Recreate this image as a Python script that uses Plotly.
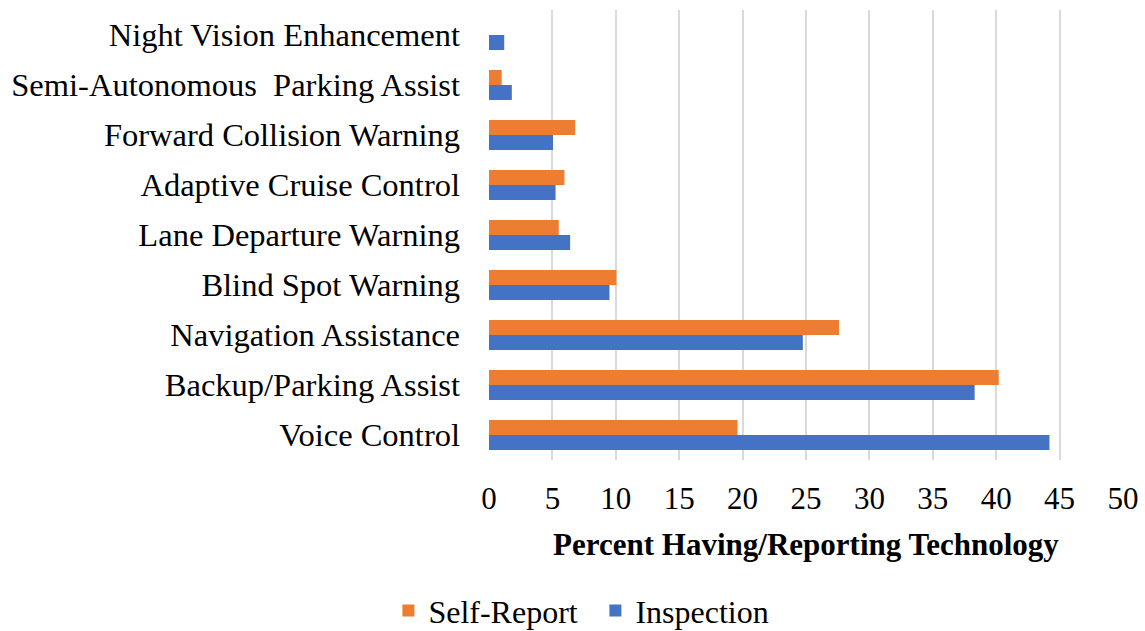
import plotly.graph_objects as go

categories = ["Voice Control", "Backup/Parking Assist", "Navigation Assistance",
              "Blind Spot Warning", "Lane Departure Warning", "Adaptive Cruise Control",
              "Forward Collision Warning", "Semi-Autonomous  Parking Assist",
              "Night Vision Enhancement"]
inspection = [44.2, 38.3, 24.75, 9.5, 6.4, 5.25, 5.05, 1.8, 1.2]
self_report = [19.6, 40.2, 27.6, 10.05, 5.5, 5.95, 6.8, 1.0, 0.0]

font_family = "Liberation Serif, Times New Roman, serif"

fig = go.Figure()
fig.add_trace(go.Bar(y=categories, x=inspection, orientation="h", name="Inspection",
                     marker=dict(color="#4472C4", line=dict(width=0))))
fig.add_trace(go.Bar(y=categories, x=self_report, orientation="h", name="Self-Report",
                     marker=dict(color="#ED7D31", line=dict(width=0))))

fig.update_layout(
    width=1145, height=631,
    paper_bgcolor="white", plot_bgcolor="white",
    font=dict(family=font_family, size=32, color="black"),
    barmode="group", bargap=0.4, bargroupgap=0,
    margin=dict(l=489, r=22, t=10, b=171, autoexpand=False),
    showlegend=True,
    legend=dict(orientation="h", traceorder="reversed",
                xref="container", yref="container",
                x=0.52, xanchor="center", y=0.032, yanchor="middle",
                font=dict(size=32), itemwidth=30, tracegroupgap=0,
                entrywidth=162),
)
fig.update_xaxes(range=[0, 50], dtick=5, showgrid=True, gridcolor="#d9d9d9", gridwidth=2,
                 zeroline=False, showline=False, ticks="", ticklabelstandoff=17,
                 automargin=False, tickfont=dict(size=31),
                 title=dict(text="<b>Percent Having/Reporting Technology</b>",
                            font=dict(size=31), standoff=18))
fig.update_yaxes(range=[-0.5, 8.5], showgrid=False, showline=False, ticks="",
                 ticklabelstandoff=28, tickfont=dict(size=32.5), automargin=False)

# drop the default 8px body margin so the figure fills the window
fig.write_html("out.html", config={"displayModeBar": False},
               post_script="document.body.style.margin='0';")
